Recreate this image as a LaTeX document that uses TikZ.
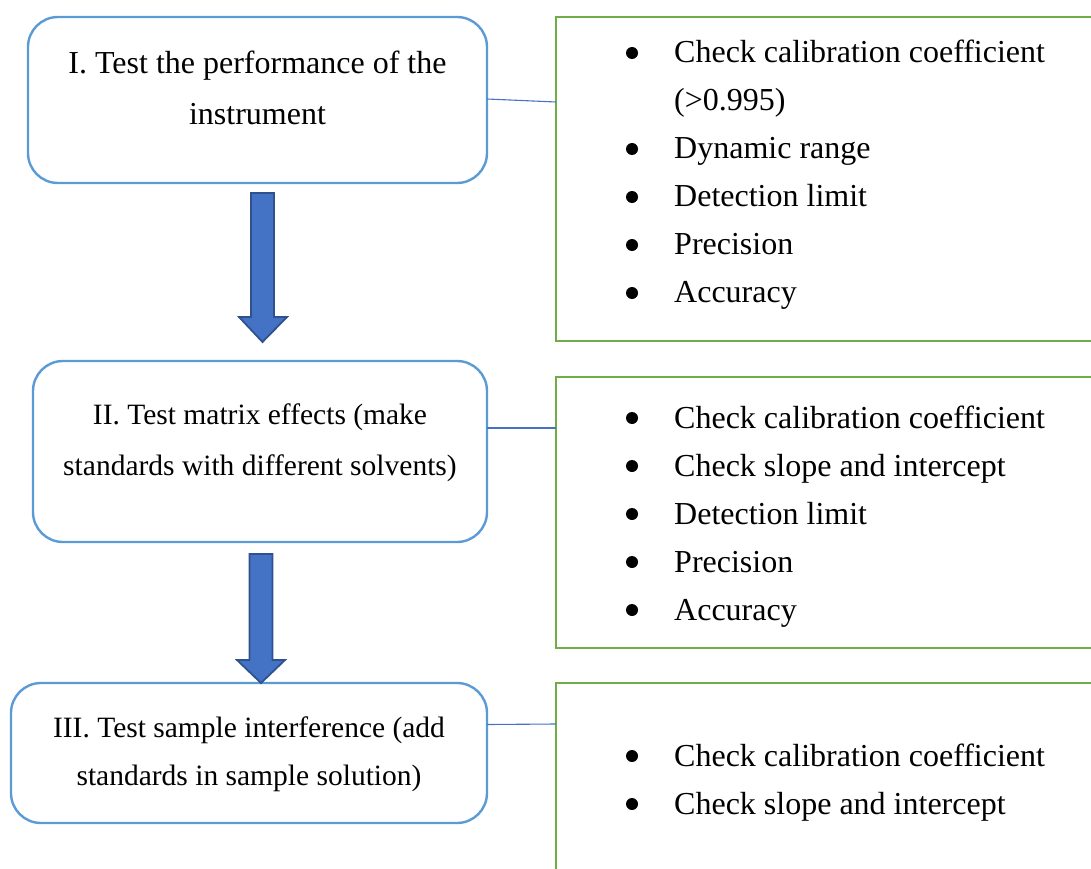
\documentclass[tikz,border=0pt]{standalone}
\usepackage{fontspec}
\setmainfont{Liberation Serif}
\definecolor{boxblue}{HTML}{5B9BD5}
\definecolor{boxgreen}{HTML}{70AD47}
\definecolor{arrowfill}{HTML}{4472C4}
\definecolor{arrowedge}{HTML}{2F528F}
\definecolor{connblue}{HTML}{4472C4}
\begin{document}
\begin{tikzpicture}[x=1pt,y=-1pt,
  stagebox/.style={draw=boxblue, line width=2.4pt, rounded corners=30pt, inner sep=0pt, outer sep=0pt, anchor=north west},
  listbox/.style={draw=boxgreen, line width=2.4pt, inner sep=0pt, outer sep=0pt, anchor=north west},
  stagetext/.style={anchor=base, inner sep=0pt, font=\fontsize{32}{51}\selectfont},
  listtext/.style={anchor=base west, inner sep=0pt, font=\fontsize{32}{48}\selectfont},
  bulletdot/.style={fill=black},
  conn/.style={draw=connblue, line width=1.1pt},
  blockarrow/.style={draw=arrowedge, fill=arrowfill, line width=1.8pt, line join=miter}
]
\useasboundingbox (0,0) rectangle (1091,869);
\clip (0,0) rectangle (1091,869);

% stage boxes
\node[stagebox, minimum width=459pt, minimum height=166pt] (b1) at (28,17) {};
\node[stagebox, minimum width=454pt, minimum height=181pt] (b2) at (33,361) {};
\node[stagebox, minimum width=476pt, minimum height=140pt] (b3) at (11,683) {};

% list boxes
\node[listbox, minimum width=560pt, minimum height=324pt] (r1) at (556,17) {};
\node[listbox, minimum width=560pt, minimum height=271pt] (r2) at (556,377) {};
\node[listbox, minimum width=560pt, minimum height=240pt] (r3) at (556,683) {};

% stage texts
\node[stagetext] (t1) at (257.5,74) {\begin{tabular}[t]{@{}c@{}}I. Test the performance of the\\instrument\end{tabular}};
\node[stagetext, font=\fontsize{29.5}{51}\selectfont] (t2) at (260,424) {\begin{tabular}[t]{@{}c@{}}II. Test matrix effects (make\\standards with different solvents)\end{tabular}};
\node[stagetext, font=\fontsize{29.5}{48}\selectfont] (t3) at (249,737) {\begin{tabular}[t]{@{}c@{}}III. Test sample interference (add\\standards in sample solution)\end{tabular}};

% list texts
\node[listtext] (l1) at (674,63) {\begin{tabular}[t]{@{}l@{}}
Check calibration coefficient\\
(>0.995)\\
Dynamic range\\
Detection limit\\
Precision\\
Accuracy
\end{tabular}};
\node[listtext] (l2) at (674,428) {\begin{tabular}[t]{@{}l@{}}
Check calibration coefficient\\
Check slope and intercept\\
Detection limit\\
Precision\\
Accuracy
\end{tabular}};
\node[listtext] (l3) at (674,766) {\begin{tabular}[t]{@{}l@{}}
Check calibration coefficient\\
Check slope and intercept
\end{tabular}};

% bullets
\foreach \yb in {63,159,207,255,303, 428,476,524,572,620, 766,814}
  \fill[bulletdot] (632,\yb-10) circle (6);

% connectors
\draw[conn] ([yshift=1pt]b1.east) -- ([yshift=77pt]r1.west);
\draw[conn] ([yshift=23.5pt]b2.east) -- ([yshift=84.5pt]r2.west);
\draw[conn] ([yshift=28.5pt]b3.east) -- ([yshift=79pt]r3.west);

% block arrows
\draw[blockarrow] (251,193) -- (274,193) -- (274,317) -- (287,317) -- (262.5,342) -- (239,317) -- (251,317) -- cycle;
\draw[blockarrow] (249.5,554) -- (272.5,554) -- (272.5,660) -- (285,660) -- (261,683) -- (237,660) -- (249.5,660) -- cycle;
\end{tikzpicture}
\end{document}
